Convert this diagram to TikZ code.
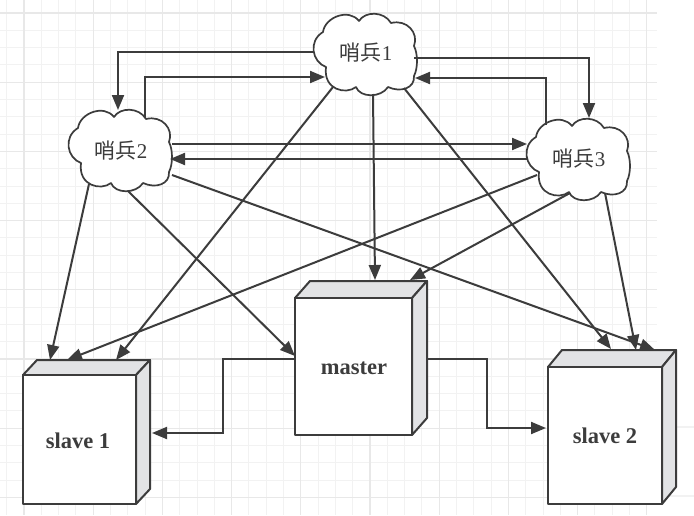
\documentclass[tikz,border=0pt]{standalone}
\usepackage{fontspec}
\setmainfont{Liberation Serif}
\newfontfamily\cjk{Noto Sans CJK SC}
\usetikzlibrary{arrows.meta}
\definecolor{ink}{HTML}{3C3C3C}
\definecolor{sidegrey}{HTML}{E2E3E5}
\definecolor{gridmajor}{HTML}{E8E8E8}
\definecolor{gridminor}{HTML}{F2F2F2}
\newcommand{\cloudpath}[2]{%
  \begin{scope}[shift={(#1,#2)}]
  \path[cloudline] (-5,-33) .. controls (1,-43) and (20,-43) .. (27,-31)
    .. controls (43,-35) and (55,-21) .. (50,-8)
    .. controls (54,0) and (54,14) .. (50,22)
    .. controls (51,34) and (37,39) .. (24,33)
    .. controls (17,44) and (-4,44) .. (-8,33)
    .. controls (-18,41) and (-41,36) .. (-38,13)
    .. controls (-52,8) and (-56,-13) .. (-41,-22)
    .. controls (-39,-37) and (-15,-46) .. (-5,-33) -- cycle;
  \end{scope}}
\newcommand{\boxpath}[6]{% x1 y1 x2 y2 dx dy
  \path[boxside] (#1,#2) -- (#1+#5,#2-#6) -- (#3+#5,#2-#6) -- (#3,#2) -- cycle;
  \path[boxside] (#3,#2) -- (#3+#5,#2-#6) -- (#3+#5,#4-#6) -- (#3,#4) -- cycle;
  \path[boxfront] (#1,#2) rectangle (#3,#4);}
\tikzset{
  cloudline/.style={draw=ink,fill=white,line width=1.7pt,line join=round},
  boxside/.style={draw=ink,fill=sidegrey,line width=2pt,line join=round},
  boxfront/.style={draw=ink,fill=white,line width=2pt,line join=round},
  arr/.style={draw=ink,line width=2pt,-{Triangle[length=15pt,width=12pt]}},
  boxlabel/.style={inner sep=0pt,text=ink,font=\fontsize{22.5}{24}\selectfont\bfseries},
  cloudlabel/.style={inner sep=0pt,text=ink,font=\fontsize{21}{23}\selectfont},
}
\begin{document}
\begin{tikzpicture}[x=1pt,y=-1pt]
\useasboundingbox (0,0) rectangle (694,515);
\fill[white] (0,0) rectangle (694,515);
% grid
\foreach \i in {0,...,37} \draw[gridminor,line width=1pt] ({6.7+17.3*\i},0) -- ({6.7+17.3*\i},515);
\foreach \i in {0,...,29} \draw[gridminor,line width=1pt] (0,{13-17.3+17.3*\i}) -- (657,{13-17.3+17.3*\i});
\foreach \i in {0,...,9} \draw[gridmajor,line width=1.2pt] ({24+69.2*\i},0) -- ({24+69.2*\i},515);
\foreach \i in {0,...,7} \draw[gridmajor,line width=1.2pt] (0,{13+69.2*\i}) -- (657,{13+69.2*\i});
\draw[gridminor,line width=1.2pt] (657,427) -- (694,427) (657,496) -- (694,496);
% shapes
\cloudpath{364}{54}
\cloudpath{119}{150}
\cloudpath{577}{159}
\boxpath{23}{375}{136}{504}{14}{15}
\boxpath{295}{298}{412}{435}{15}{17}
\boxpath{548}{367}{662}{504}{14}{17}
% labels
\node[cloudlabel] (c1) at (366,53) {{\cjk 哨兵}1};
\node[cloudlabel] (c2) at (121,151) {{\cjk 哨兵}2};
\node[cloudlabel] (c3) at (579,159) {{\cjk 哨兵}3};
\node[boxlabel] (m) at (354,368) {master};
\node[boxlabel] (s1) at (78,441) {slave 1};
\node[boxlabel] (s2) at (605,436) {slave 2};
% connectors
\draw[arr] ([shift={(-52,-1)}]c1.center) -| ([shift={(-3,-41)}]c2.center);
\draw[arr] ([shift={(24,-33)}]c2.center) |- ([shift={(-41,24)}]c1.center);
\draw[arr] ([shift={(48,5)}]c1.center) -| ([shift={(10,-41)}]c3.center);
\draw[arr] ([shift={(-33,-34)}]c3.center) |- ([shift={(49,25)}]c1.center);
\draw[arr] ([shift={(51,-7)}]c2.center) -- ([shift={(-52,-15)}]c3.center);
\draw[arr] ([shift={(-52,0)}]c3.center) -- ([shift={(49,8)}]c2.center);
\draw[arr] ([shift={(-33,34)}]c1.center) -- ([shift={(38,-81)}]s1.center);
\draw[arr] ([shift={(7,41)}]c1.center) -- ([shift={(21,-88)}]m.center);
\draw[arr] ([shift={(38,35)}]c1.center) -- ([shift={(6,-87)}]s2.center);
\draw[arr] ([shift={(-32,33)}]c2.center) -- ([shift={(-28,-81)}]s1.center);
\draw[arr] ([shift={(7,40)}]c2.center) -- ([shift={(-59,-12)}]m.center);
\draw[arr] ([shift={(51,24)}]c2.center) -- ([shift={(50,-86)}]s2.center);
\draw[arr] ([shift={(-42,16)}]c3.center) -- ([shift={(-11,-81)}]s1.center);
\draw[arr] ([shift={(-9,34)}]c3.center) -- ([shift={(56,-88)}]m.center);
\draw[arr] ([shift={(26,34)}]c3.center) -- ([shift={(31,-86)}]s2.center);
\draw[arr] ([shift={(-59,-9)}]m.center) -- ++(-72,0) |- ([shift={(74,-8)}]s1.center);
\draw[arr] ([shift={(73,-9)}]m.center) -- ++(60,0) |- ([shift={(-59,-8)}]s2.center);
\end{tikzpicture}
\end{document}
